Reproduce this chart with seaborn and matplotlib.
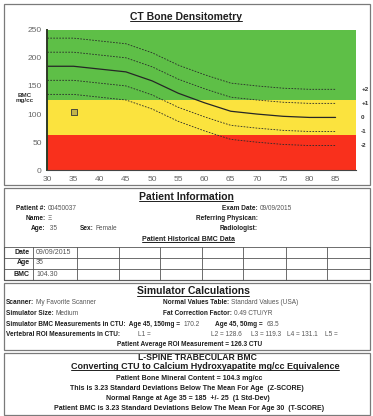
import matplotlib
matplotlib.use("Agg")
import matplotlib.pyplot as plt
import seaborn as sns
from matplotlib.patches import Rectangle

# normal curve (mean and +/- SD lines)
ages = [30, 35, 40, 45, 50, 55, 60, 65, 70, 75, 80, 85]
mean_bmc = [185, 185, 180, 175, 159, 137, 120, 105, 100, 96, 94, 94]
plus2 = [235, 235, 230, 225, 209, 187, 170, 155, 150, 146, 144, 144]
plus1 = [210, 210, 205, 200, 184, 162, 145, 130, 125, 121, 119, 119]
minus1 = [160, 160, 155, 150, 134, 112, 95, 80, 75, 71, 69, 69]
minus2 = [135, 135, 130, 125, 109, 87, 70, 55, 50, 46, 44, 44]
sd_names = ["+2", "+1", "0", "-1", "-2"]

band_edges = [0, 62, 125, 250]
band_colors = ["#f9301c", "#fbe33e", "#5ebf47"]

patient_age = [35]
patient_bmc = [104.3]

x_ticks = [30, 35, 40, 45, 50, 55, 60, 65, 70, 75, 80, 85]
y_ticks = [0, 50, 100, 150, 200, 250]

hist_dates = ["09/09/2015"]
hist_ages = ["35"]
hist_bmc = ["104.30"]

vertebral = [("L1 =", 138), ("L2 = 128.6", 211), ("L3 = 119.3", 251), ("L4 = 131.1", 287), ("L5 =", 325)]

sns.set_style("white")
plt.rcParams["font.family"] = ["Liberation Sans", "DejaVu Sans"]

DARK = "#1e1e1e"
GREY = "#555555"
BODY = 4.7
W, H = 373, 416

fig = plt.figure(figsize=(W / 100, H / 100), dpi=100)
page = fig.add_axes([0, 0, 1, 1])
page.set_xlim(0, W)
page.set_ylim(H, 0)
page.axis("off")
r = fig.canvas.get_renderer()

# section boxes
for y0, y1 in [(4, 185), (188, 280), (283, 350), (353, 415)]:
    page.add_patch(Rectangle((4, y0), 366, y1 - y0, fill=False, ec="#7a7a7a", lw=0.9))


def put(x, y, s, ha="left", weight="normal", size=BODY, color=DARK, va="center"):
    return page.text(x, y, s, ha=ha, va=va, fontsize=size, fontweight=weight, color=color)


def width(t):
    return t.get_window_extent(r).width


def pair(x, y, label, value, ha="left", gap=2):
    if ha == "right":
        put(x, y, label, ha="right", weight="bold")
        put(x + gap, y, value, color=GREY)
    else:
        t = put(x, y, label, weight="bold")
        put(x + width(t) + gap, y, value, color=GREY)


def title(x, y, s, size=7.5):
    t = put(x, y, s, ha="center", weight="bold", size=size, va="baseline")
    bb = t.get_window_extent(r)
    page.plot([bb.x0, bb.x1], [y + 1.3, y + 1.3], color=DARK, lw=0.7)
    return t


# ---- chart ----
title(186, 20, "CT Bone Densitometry")

ax = fig.add_axes([47.3 / W, 1 - 170.3 / H, (356 - 47.3) / W, (170.3 - 29.7) / H])
for lo, hi, c in zip(band_edges[:-1], band_edges[1:], band_colors):
    ax.axhspan(lo, hi, color=c, lw=0, zorder=0)

dash = (0, (2, 1.6))
for vals in [plus2, plus1, minus1, minus2]:
    sns.lineplot(x=ages, y=vals, ax=ax, color="#2a2a2a", lw=0.6, linestyle=dash)
sns.lineplot(x=ages, y=mean_bmc, ax=ax, color="#262626", lw=0.9)
sns.scatterplot(x=patient_age, y=patient_bmc, ax=ax, marker="s", s=14,
                color="#c2b34a", edgecolor="#4a4a3a", linewidth=0.7, zorder=5)

for name, vals in zip(sd_names, [plus2, plus1, mean_bmc, minus1, minus2]):
    ax.text(89.9, vals[-1], name, fontsize=4.5, fontweight="bold", color="#333333",
            va="center", ha="left", clip_on=False)

ax.set_xlim(30, 88.9)
ax.set_ylim(0, 250)
ax.set_xticks(x_ticks)
ax.set_yticks(y_ticks)
ax.tick_params(length=3, width=0.8, color="#333333", labelsize=6, labelcolor="#666666", pad=1)
for s in ["top", "right"]:
    ax.spines[s].set_visible(False)
ax.spines["left"].set_linewidth(1.4)
ax.spines["left"].set_color("#2e3b26")
ax.spines["bottom"].set_linewidth(0.8)
ax.spines["bottom"].set_color("#444444")
ax.set_ylabel("BMC\nmg/cc", rotation=0, fontsize=4.5, fontweight="bold", color="#333333",
              linespacing=0.9, va="center", ha="center")
ax.yaxis.set_label_coords(-0.072, 0.514)
ax.set_xlabel("")

# ---- patient information ----
title(186, 200, "Patient Information")
pair(45.5, 208.5, "Patient #:", "00450037", ha="right")
pair(45.5, 218.5, "Name:", "\u039e", ha="right")
pair(45.5, 228.3, "Age:", " 35", ha="right")
pair(80, 228.3, "Sex:", "Female")
pair(257.5, 208.5, "Exam Date:", "09/09/2015", ha="right")
put(257.5, 218.5, "Referring Physican:", ha="right", weight="bold")
put(257.5, 228.3, "Radiologist:", ha="right", weight="bold")
title(188, 241, "Patient Historical BMC Data", size=5)

cols = [4, 33, 77, 119, 160, 202, 243, 286, 327, 370]
rows = [246.5, 257.5, 268.5, 279.5]
for yy in rows:
    page.plot([cols[0], cols[-1]], [yy, yy], color="#555555", lw=0.6)
for xx in cols:
    page.plot([xx, xx], [rows[0], rows[-1]], color="#555555", lw=0.6)
for i, (lab, vals) in enumerate([("Date", hist_dates), ("Age", hist_ages), ("BMC", hist_bmc)]):
    yc = (rows[i] + rows[i + 1]) / 2
    put(30, yc, lab, ha="right", weight="bold", size=5)
    for j, v in enumerate(vals):
        put(cols[j + 1] + 3, yc, v, color=GREY, size=5)

# ---- simulator calculations ----
title(193, 294.5, "Simulator Calculations")
pair(6, 303, "Scanner:", "My Favorite Scanner")
pair(163, 303, "Normal Values Table:", "Standard Values (USA)")
pair(6, 313.5, "Simulator Size:", "Medium")
pair(163, 313.5, "Fat Correction Factor:", "0.49 CTU/YR")
pair(6, 324, "Simulator BMC Measurements in CTU:  Age 45, 150mg = ", "170.2")
pair(215, 324, "Age 45, 50mg = ", "63.5")
put(6, 334.5, "Vertebral ROI Measurements in CTU:", weight="bold")
for s, xx in vertebral:
    put(xx, 334.5, s, color=GREY)
put(190, 344, "Patient Average ROI Measurement = 126.3 CTU", ha="center", weight="bold")

# ---- L-spine ----
put(197, 358, "L-SPINE TRABECULAR BMC", ha="center", weight="bold", size=6.2)
title(205, 369, "Converting CTU to Calcium Hydroxyapatite mg/cc Equivalence", size=6.5)
put(189, 378.5, "Patient Bone Mineral Content = 104.3 mg/cc", ha="center", weight="bold", size=5)
put(187, 388.5, "This is 3.23 Standard Deviations Below The Mean For Age  (Z-SCORE)", ha="center", weight="bold", size=5)
put(188, 398, "Normal Range at Age 35 = 185  +/- 25  (1 Std-Dev)", ha="center", weight="bold", size=5)
put(189, 408, "Patient BMC is 3.23 Standard Deviations Below The Mean For Age 30  (T-SCORE)", ha="center", weight="bold", size=5)

fig.savefig("out.png", dpi=100)
